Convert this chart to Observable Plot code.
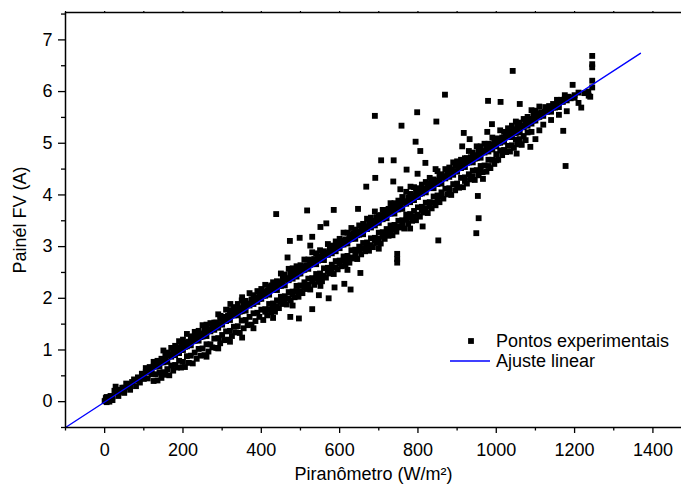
<!DOCTYPE html>
<html><head><meta charset="utf-8">
<script src="https://cdn.jsdelivr.net/npm/d3@7"></script>
<script src="https://cdn.jsdelivr.net/npm/@observablehq/plot@0.6"></script>
<style>
body{margin:0;background:#fff;}
#chart{position:relative;width:681px;height:484px;}
</style></head><body><div id="chart"></div>
<script>
// Axis settings
const xDomain = [-100, 1473];
const yDomain = [-0.5, 7.53];
const xMajor = [0, 200, 400, 600, 800, 1000, 1200, 1400];
const xMinor = [-100, 100, 300, 500, 700, 900, 1100, 1300];
const yMajor = [0, 1, 2, 3, 4, 5, 6, 7];
const yMinor = [-0.5, 0.5, 1.5, 2.5, 3.5, 4.5, 5.5, 6.5, 7.5];

// Linear fit (endpoints)
const fitX = [-100, 1368];
const fitY = [-0.5, 6.74];

// Experimental points: upper dense band (on and just above the fit line)
const upperX1 = [0,10,20,30,40,50,60,70,80,90,100,110,120,130,140,150,160,170,180,190,200,210,220,230,240,250,260,270,280,290,300,310,320,330,340,350,360,370,380,390,400,410,420,430,440,450,460,470,480,490,500,510,520,530,540,550,560,570,580,590,600,610,620,630,640,650,660,670,680,690,700,710,720,730,740,750,760,770,780,790,800,810,820,830,840,850,860,870,880,890,900,910,920,930,940,950,960,970,980,990,1000,1010,1020,1030,1040,1050,1060,1070,1080,1090,1100,1110,1120,1130,1140,1150,1160,1170,1180,1190,1200,1210];
const upperY1 = [0.01,0.08,0.10,0.19,0.19,0.27,0.28,0.38,0.41,0.45,0.51,0.58,0.60,0.68,0.68,0.76,0.77,0.87,0.90,0.94,1.00,1.07,1.09,1.18,1.18,1.26,1.27,1.36,1.39,1.43,1.49,1.56,1.58,1.67,1.67,1.75,1.76,1.86,1.89,1.93,1.99,2.05,2.07,2.16,2.16,2.24,2.25,2.35,2.38,2.42,2.48,2.55,2.57,2.66,2.66,2.74,2.74,2.84,2.87,2.91,2.97,3.04,3.06,3.15,3.15,3.23,3.24,3.34,3.37,3.41,3.46,3.53,3.55,3.64,3.64,3.72,3.73,3.83,3.86,3.90,3.96,4.03,4.05,4.14,4.13,4.21,4.22,4.32,4.35,4.39,4.45,4.52,4.54,4.63,4.63,4.71,4.72,4.82,4.84,4.88,4.94,5.01,5.03,5.12,5.12,5.20,5.21,5.31,5.34,5.38,5.44,5.51,5.53,5.61,5.61,5.69,5.70,5.80,5.83,5.87,5.93,5.98];
const upperX2 = [5,15,25,35,45,55,65,75,85,95,105,115,125,135,145,155,165,175,185,195,205,215,225,235,245,255,265,275,285,295,305,315,325,335,345,355,365,375,385,395,405,415,425,435,445,455,465,475,485,495,505,515,525,535,545,555,565,575,585,595,605,615,625,635,645,655,665,675,685,695,705,715,725,735,745,755,765,775,785,795,805,815,825,835,845,855,865,875,885,895,905,915,925,935,945,955,965,975,985,995,1005,1015,1025,1035,1045,1055,1065,1075,1085,1095,1105,1115,1125,1135,1145,1155,1165,1175,1185];
const upperY2 = [0.09,0.11,0.21,0.23,0.27,0.35,0.34,0.43,0.47,0.54,0.65,0.67,0.77,0.79,0.83,0.91,0.91,1.00,1.04,1.11,1.14,1.16,1.26,1.28,1.32,1.40,1.40,1.49,1.53,1.60,1.64,1.66,1.76,1.78,1.81,1.89,1.89,1.98,2.02,2.09,2.13,2.15,2.25,2.27,2.31,2.39,2.39,2.48,2.51,2.58,2.62,2.64,2.74,2.76,2.80,2.88,2.88,2.97,3.01,3.08,3.12,3.14,3.24,3.25,3.29,3.37,3.37,3.46,3.50,3.57,3.61,3.63,3.73,3.75,3.79,3.87,3.87,3.95,3.99,4.06,4.10,4.12,4.22,4.24,4.28,4.36,4.36,4.45,4.49,4.56,4.60,4.61,4.71,4.73,4.77,4.85,4.85,4.94,4.98,5.05,5.09,5.11,5.21,5.23,5.27,5.35,5.34,5.43,5.47,5.54,5.58,5.60,5.70,5.72,5.76,5.84,5.84,5.93,5.90];
const upperX3 = [105,115,125,135,145,155,165,175,185,195,205,215,225,235,245,255,265,275,285,295,305,315,325,335,345,355,365,375,385,395,405,415,425,435,445,455,465,475,485,495,505,515,525,535,545,555,565,575,585,595,605,615,625,635,645,655,665,675,685,695,705,715,725,735,745,755,765,775,785,795,805,815,825,835,845,855,865,875,885,895,905,915,925,935,945,955,965,975,985,995,1005,1015,1025,1035,1045,1055,1065,1075,1085,1095,1105,1115,1125,1135,1145,1155,1165,1175,1185];
const upperY3 = [0.57,0.64,0.68,0.75,0.76,0.82,0.89,0.93,0.99,1.00,1.06,1.13,1.17,1.24,1.25,1.31,1.38,1.42,1.49,1.50,1.56,1.63,1.67,1.73,1.74,1.80,1.87,1.91,1.98,1.99,2.05,2.12,2.16,2.23,2.24,2.30,2.37,2.40,2.47,2.48,2.54,2.61,2.65,2.72,2.73,2.79,2.86,2.90,2.97,2.98,3.04,3.10,3.14,3.21,3.22,3.28,3.35,3.39,3.46,3.47,3.53,3.60,3.64,3.71,3.72,3.78,3.85,3.88,3.95,3.96,4.02,4.09,4.13,4.20,4.21,4.27,4.34,4.38,4.45,4.46,4.52,4.58,4.62,4.69,4.70,4.76,4.83,4.87,4.94,4.95,5.01,5.08,5.12,5.19,5.20,5.25,5.32,5.36,5.43,5.44,5.50,5.57,5.61,5.68,5.69,5.75,5.82,5.86,5.88];
const fringeX = [150,170,190,210,230,250,270,290,310,330,350,370,390,410,430,450,470,490,510,530,550,570,590,610,630,650,670,690,710,730,750,770,790,810,830,850,870,890,910,930,950,970,990,1010,1030,1050,1070,1090,1110];
const fringeY = [0.99,1.04,1.17,1.31,1.35,1.48,1.52,1.69,1.78,1.83,1.96,2.10,2.14,2.26,2.31,2.48,2.57,2.62,2.75,2.89,2.93,3.05,3.10,3.27,3.36,3.41,3.54,3.68,3.71,3.84,3.89,4.06,4.15,4.20,4.33,4.46,4.50,4.63,4.68,4.85,4.94,4.99,5.11,5.25,5.29,5.42,5.47,5.64,5.71];
const fringeX2 = [160,180,200,220,240,260,280,300,320,340,360,380,400,420,440,460,480,500,520,540,560,580,600,620,640,660,680,700,720,740,760,780,800,820,840,860,880,900,920,940,960,980,1000,1020,1040,1060,1080,1100];
const fringeY2 = [0.95,1.08,1.20,1.26,1.37,1.49,1.53,1.64,1.77,1.89,1.95,2.06,2.18,2.22,2.33,2.46,2.58,2.64,2.75,2.87,2.91,3.02,3.15,3.27,3.33,3.44,3.56,3.60,3.71,3.84,3.96,4.02,4.13,4.25,4.30,4.40,4.53,4.65,4.71,4.82,4.94,4.99,5.09,5.22,5.34,5.40,5.51,5.63];

// Lower band (below the fit line)
const lowerX1 = [90,100,110,120,130,140,150,160,170,180,190,200,210,220,230,240,250,260,270,280,290,300,310,320,330,340,350,360,370,380,390,400,410,420,430,440,450,460,470,480,490,500,510,520,530,540,550,560,570,580,590,600,610,620,630,640,650,660,670,680,690,700,710,720,730,740,750,760,770,780,790,800,810,820,830,840,850,860,870,880,890,900,910,920,930,940,950,960,970,980,990,1000,1010,1020,1030,1040,1050,1060,1070,1080,1090];
const lowerY1 = [0.37,0.44,0.45,0.53,0.53,0.56,0.57,0.63,0.70,0.71,0.79,0.77,0.88,0.89,0.95,1.02,1.03,1.11,1.11,1.22,1.23,1.29,1.36,1.37,1.45,1.46,1.57,1.58,1.64,1.71,1.72,1.78,1.79,1.89,1.90,1.96,2.03,2.04,2.12,2.13,2.24,2.25,2.31,2.38,2.39,2.47,2.48,2.58,2.59,2.65,2.72,2.73,2.81,2.82,2.93,2.94,3.00,3.07,3.08,3.16,3.17,3.27,3.28,3.34,3.41,3.42,3.50,3.51,3.62,3.63,3.69,3.76,3.77,3.85,3.86,3.97,3.99,4.05,4.12,4.13,4.21,4.22,4.33,4.34,4.40,4.47,4.48,4.56,4.57,4.68,4.68,4.79,4.86,4.87,4.95,4.96,5.07,5.08,5.14,5.21,5.22];
const lowerX2 = [125,135,145,155,165,175,185,195,205,215,225,235,245,255,265,275,285,295,305,315,325,335,345,355,365,375,385,395,405,415,425,435,445,455,465,475,485,495,505,515,525,535,545,555,565,575,585,595,605,615,625,635,645,655,665,675,685,695,705,715,725,735,745,755,765,775,785,795,805,815,825,835,845,855,865,875,885,895,905,915,925,935,945,955,965,975,985,995,1005,1015,1025,1035,1045,1055,1065,1075];
const lowerY2 = [0.40,0.41,0.46,0.52,0.51,0.60,0.66,0.66,0.67,0.75,0.74,0.83,0.89,0.90,0.97,1.05,1.04,1.13,1.19,1.20,1.27,1.34,1.33,1.42,1.48,1.49,1.56,1.64,1.58,1.67,1.73,1.74,1.81,1.89,1.88,1.96,2.02,2.03,2.10,2.18,2.17,2.26,2.32,2.33,2.40,2.48,2.47,2.56,2.62,2.63,2.69,2.77,2.76,2.85,2.91,2.92,2.99,3.07,3.06,3.15,3.21,3.22,3.29,3.37,3.35,3.44,3.50,3.51,3.58,3.66,3.65,3.74,3.80,3.86,3.93,4.01,4.00,4.09,4.14,4.15,4.22,4.30,4.29,4.38,4.44,4.45,4.52,4.60,4.68,4.77,4.83,4.84,4.91,4.98,4.97,5.06];
const lowerX3 = [410,430,450,470,490,510,530,550,570,590,610,630,650,670,690,710,730,750,770,790,810,830,850];
const lowerY3 = [1.74,1.81,1.93,2.00,2.14,2.21,2.33,2.40,2.53,2.60,2.73,2.79,2.92,2.99,3.12,3.19,3.32,3.39,3.52,3.58,3.71,3.78,3.90];
const lowerX4 = [420,440,460,480,500,520,540,560,580,600,620,640,660,680,700,720,740,760,780,800,820,840,860,880,900,920,940,960,980,1000];
const lowerY4 = [1.78,1.85,1.96,2.08,2.14,2.26,2.38,2.44,2.55,2.67,2.74,2.85,2.97,3.03,3.15,3.26,3.33,3.44,3.56,3.62,3.74,3.85,3.97,4.08,4.16,4.27,4.36,4.47,4.56,4.67];

// Scattered points and outliers
const scatterX = [2,5,8,12,3,15,20,28,35,50,65,80,296,321,351,260,290,320,351,380,430,480,620,700,780,438,473,498,530,525,467,517,585,647,551,566,551,587,612,628,547,572,530,496,474,653,747,747,747,690,798,847,758,917,932,794,806,913,819,706,738,771,799,845,691,737,668,755,781,953,955,949,852,812,869,979,1011,1060,1042,1195,1245,1245,1245,1245,1245,1236,1217,1171,1177,989,977,1062,1087,1100,1052,966,1200,1210,1225,1235,1240,1180,1160,1140,1120,1110];
const scatterY = [0.02,-0.01,0.05,0.00,0.07,0.05,0.03,0.29,0.11,0.17,0.23,0.30,1.66,1.89,2.02,0.87,1.03,1.16,1.24,1.42,1.62,1.86,2.55,2.96,3.35,3.63,3.11,3.17,3.19,3.02,2.79,3.70,3.71,3.73,3.38,3.45,2.24,2.21,2.28,2.17,2.06,2.00,1.79,1.61,1.64,2.49,2.86,2.69,2.76,5.53,5.60,5.42,5.34,5.20,5.08,5.03,4.85,4.94,4.62,4.67,4.67,4.49,4.41,4.50,4.33,4.26,4.16,4.11,4.16,3.98,3.55,3.26,3.12,3.39,5.94,5.82,5.80,5.76,6.40,6.13,6.69,6.53,6.47,6.21,6.08,5.92,5.69,5.24,4.56,5.37,5.22,4.98,4.93,5.08,4.80,4.31,5.88,5.78,5.97,6.00,5.90,5.62,5.55,5.45,5.36,5.25];

const pts = [];
[[upperX1, upperY1], [upperX2, upperY2], [upperX3, upperY3], [fringeX, fringeY], [fringeX2, fringeY2],
 [lowerX1, lowerY1], [lowerX2, lowerY2], [lowerX3, lowerY3], [lowerX4, lowerY4], [scatterX, scatterY]]
  .forEach(([xs, ys]) => xs.forEach((x, i) => pts.push({x, y: ys[i]})));
const fit = fitX.map((x, i) => ({x, y: fitY[i]}));

const font = "'Liberation Sans', Arial, Helvetica, sans-serif";
const chart = Plot.plot({
  width: 681, height: 484,
  marginLeft: 65, marginRight: 0, marginTop: 12, marginBottom: 57,
  style: {fontFamily: font, fontSize: "18px", color: "#000", background: "#fff", overflow: "visible"},
  x: {domain: xDomain},
  y: {domain: yDomain},
  marks: [
    Plot.dot(pts, {x: "x", y: "y", symbol: "square", r: 3.3, fill: "#000", stroke: null}),
    Plot.line(fit, {x: "x", y: "y", stroke: "#0000ff", strokeWidth: 1.4}),
    Plot.ruleX([xDomain[0]], {stroke: "#000", strokeWidth: 1.5}),
    Plot.ruleY(yDomain, {stroke: "#000", strokeWidth: 1.5}),
    Plot.axisX(xMajor, {tickSize: 6, tickPadding: 10, strokeWidth: 1.3, tickFormat: d => String(d),
      label: "Piranômetro (W/m²)", labelAnchor: "center", labelArrow: "none", labelOffset: 52, fontSize: 18}),
    Plot.axisX(xMinor, {tickSize: 3.5, strokeWidth: 1.3, tickFormat: () => "", label: null}),
    Plot.axisX([...xMajor, ...xMinor], {anchor: "top", tickSize: 2, strokeWidth: 1.2, tickFormat: () => "", label: null}),
    Plot.axisY(yMajor, {tickSize: 7, tickPadding: 6, strokeWidth: 1.3, tickFormat: d => String(d),
      label: "Painél FV (A)", labelAnchor: "center", labelArrow: "none", labelOffset: 52, fontSize: 18}),
    Plot.axisY(yMinor, {tickSize: 4, strokeWidth: 1.3, tickFormat: () => "", label: null})
  ]
});
document.getElementById("chart").appendChild(chart);

// Legend inside the plot area
const svg = d3.select(chart);
const lg = svg.append("g").attr("font-family", font).attr("font-size", 18).attr("fill", "#000").attr("text-anchor", "start");
lg.append("rect").attr("x", 468.1).attr("y", 338.1).attr("width", 5.8).attr("height", 5.8).attr("fill", "#000");
lg.append("text").attr("x", 496).attr("y", 341).attr("dy", "0.35em").attr("text-anchor", "start").text("Pontos experimentais");
lg.append("line").attr("x1", 450).attr("x2", 490).attr("y1", 361).attr("y2", 361).attr("stroke", "#0000ff").attr("stroke-width", 1.4);
lg.append("text").attr("x", 496).attr("y", 361).attr("dy", "0.35em").attr("text-anchor", "start").text("Ajuste linear");
</script></body></html>
